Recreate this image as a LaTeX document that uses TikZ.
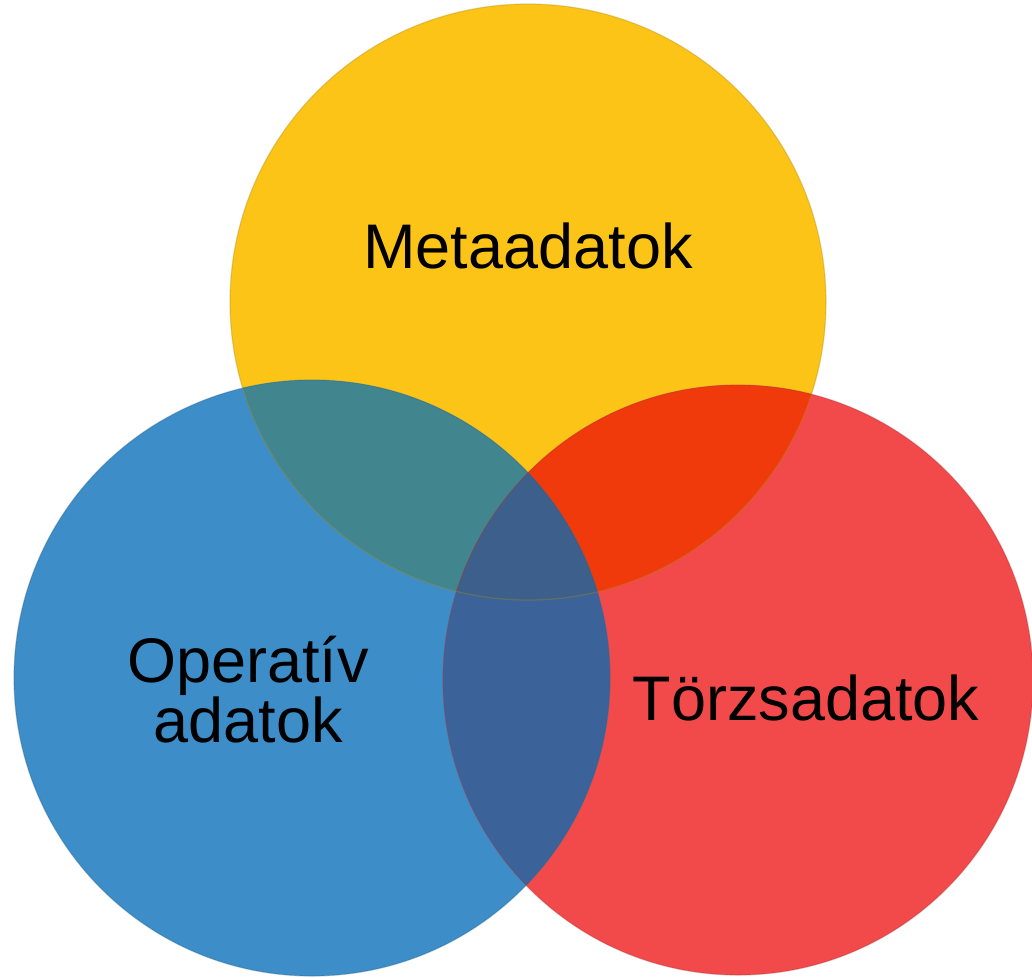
\documentclass[tikz,border=0pt]{standalone}
\usepackage{fontspec}
\setmainfont{Liberation Sans}
\definecolor{cY}{HTML}{FCC417}
\definecolor{cB}{HTML}{3D8DC8}
\definecolor{cR}{HTML}{F24A4B}
\definecolor{cYB}{HTML}{41868F}
\definecolor{cYR}{HTML}{F03A0B}
\definecolor{cBR}{HTML}{3B6399}
\definecolor{cYBR}{HTML}{3C5F8C}
\begin{document}
\begin{tikzpicture}[x=1pt,y=-1pt,
  lbl/.style={font=\fontsize{63}{57}\selectfont, text=black, inner sep=0pt}]
\useasboundingbox (0,0) rectangle (1032,977);
\def\Ycirc{(528,302) circle (298)}
\def\Bcirc{(312,678) circle (298)}
\def\Rcirc{(738,680) circle (295)}
% base circles
\fill[cY] \Ycirc;
\fill[cR] \Rcirc;
\fill[cB] \Bcirc;
% overlaps
\begin{scope}\clip \Ycirc; \fill[cYB] \Bcirc; \end{scope}
\begin{scope}\clip \Ycirc; \fill[cYR] \Rcirc; \end{scope}
\begin{scope}\clip \Bcirc; \fill[cBR] \Rcirc; \end{scope}
\begin{scope}\clip \Ycirc; \clip \Bcirc; \fill[cYBR] \Rcirc; \end{scope}
% rims
\draw[cY!70!black, opacity=0.35, line width=1.2pt] \Ycirc;
\draw[cR!70!black, opacity=0.35, line width=1.2pt] \Rcirc;
\draw[cB!70!black, opacity=0.35, line width=1.2pt] \Bcirc;
% labels
\node[lbl, anchor=base] (meta) at (528,268) {Metaadatok};
\node[lbl, anchor=base, align=center] (oper) at (248,742) {Operatív\\adatok};
\node[lbl, anchor=base] (torzs) at (806,720) {Törzsadatok};
\end{tikzpicture}
\end{document}
